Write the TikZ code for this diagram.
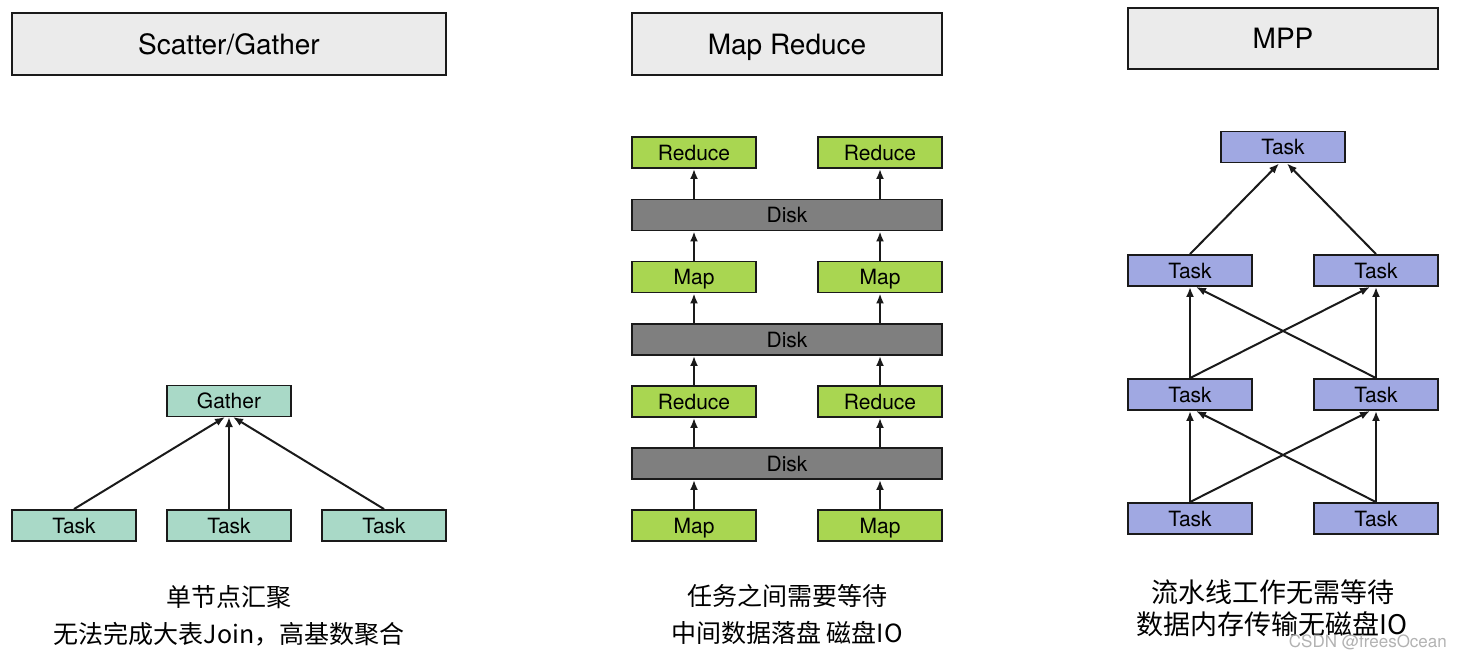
\documentclass[tikz,border=0pt]{standalone}
\usepackage{fontspec}
\setmainfont{TeX Gyre Heros}
\newfontfamily\cjk{Noto Sans CJK SC}
\usetikzlibrary{arrows.meta}
\definecolor{hdrgray}{HTML}{EBEBEB}
\definecolor{sgfill}{HTML}{A9D9C7}
\definecolor{mrfill}{HTML}{A9D651}
\definecolor{diskfill}{HTML}{7F7F7F}
\definecolor{mppfill}{HTML}{A0A8E2}
\definecolor{edge}{HTML}{1A1A1A}
\begin{document}
\begin{tikzpicture}[x=1pt,y=-1pt,
  hdr/.style={draw=edge,line width=2pt,fill=hdrgray,inner sep=0pt,text height=20pt,text depth=0pt,font=\fontsize{28}{30}\selectfont},
  taskbox/.style={draw=edge,line width=1.9pt,inner sep=0pt,minimum width=124pt,minimum height=31pt,text height=15pt,text depth=0pt,font=\fontsize{21}{24}\selectfont},
  sg/.style={taskbox,fill=sgfill},
  mr/.style={taskbox,fill=mrfill},
  mpp/.style={taskbox,fill=mppfill},
  disk/.style={taskbox,fill=diskfill,minimum width=310pt},
  arr/.style={line width=2pt,draw=edge,-{Latex[length=10pt,width=8pt]}},
  captxt/.style={font=\cjk\fontsize{25}{30}\selectfont,inner sep=0pt},
  captxtb/.style={font=\cjk\fontsize{27}{32}\selectfont,inner sep=0pt}]
\useasboundingbox (0,0) rectangle (1461,657);
% headers
\node[hdr,minimum width=434pt,minimum height=62pt] (h1) at (229,44) {Scatter/Gather};
\node[hdr,minimum width=310pt,minimum height=62pt] (h2) at (787,44) {Map Reduce};
\node[hdr,minimum width=310pt,minimum height=61pt] (h3) at (1283,38.5) {MPP};
% Scatter/Gather
\node[sg] (g) at (229,401) {Gather};
\node[sg] (t1) at (74,525.5) {Task};
\node[sg] (t2) at (229,525.5) {Task};
\node[sg] (t3) at (384,525.5) {Task};
\coordinate (gb) at (229,417);
\draw[arr] (t1.north) -- ([xshift=-4pt]gb);
\draw[arr] (t2.north) -- (gb);
\draw[arr] (t3.north) -- ([xshift=4pt]gb);
\node[captxt] (c1) at (229,597) {单节点汇聚};
\node[captxt] (c2) at (229,634) {无法完成大表Join，高基数聚合};
% Map Reduce
\node[mr] (r1) at (694,152.5) {Reduce};
\node[mr] (r2) at (880,152.5) {Reduce};
\node[disk] (d1) at (787,215) {Disk};
\node[mr] (m1) at (694,277) {Map};
\node[mr] (m2) at (880,277) {Map};
\node[disk] (d2) at (787,339.5) {Disk};
\node[mr] (r3) at (694,401.5) {Reduce};
\node[mr] (r4) at (880,401.5) {Reduce};
\node[disk] (d3) at (787,463.5) {Disk};
\node[mr] (m3) at (694,525.5) {Map};
\node[mr] (m4) at (880,525.5) {Map};
\draw[arr] (r1.south |- d1.north) -- (r1.south);
\draw[arr] (r2.south |- d1.north) -- (r2.south);
\draw[arr] (m1.north) -- (m1.north |- d1.south);
\draw[arr] (m2.north) -- (m2.north |- d1.south);
\draw[arr] (m1.south |- d2.north) -- (m1.south);
\draw[arr] (m2.south |- d2.north) -- (m2.south);
\draw[arr] (r3.north) -- (r3.north |- d2.south);
\draw[arr] (r4.north) -- (r4.north |- d2.south);
\draw[arr] (r3.south |- d3.north) -- (r3.south);
\draw[arr] (r4.south |- d3.north) -- (r4.south);
\draw[arr] (m3.north) -- (m3.north |- d3.south);
\draw[arr] (m4.north) -- (m4.north |- d3.south);
\node[captxt] (c3) at (787,596) {任务之间需要等待};
\node[captxt] (c4) at (787,633) {中间数据落盘 磁盘IO};
% MPP
\node[mpp] (p0) at (1283,147) {Task};
\node[mpp] (p1) at (1190,270.5) {Task};
\node[mpp] (p2) at (1376,270.5) {Task};
\node[mpp] (p3) at (1190,394.5) {Task};
\node[mpp] (p4) at (1376,394.5) {Task};
\node[mpp] (p5) at (1190,518.5) {Task};
\node[mpp] (p6) at (1376,518.5) {Task};
\draw[arr] (p1.north) -- ([xshift=-4pt]p0.south);
\draw[arr] (p2.north) -- ([xshift=4pt]p0.south);
\draw[arr] (p3.north) -- (p1.south);
\draw[arr] (p4.north) -- (p2.south);
\draw[arr] (p3.north) -- ([xshift=-6pt]p2.south);
\draw[arr] (p4.north) -- ([xshift=6pt]p1.south);
\draw[arr] (p5.north) -- (p3.south);
\draw[arr] (p6.north) -- (p4.south);
\draw[arr] (p5.north) -- ([xshift=-6pt]p4.south);
\draw[arr] (p6.north) -- ([xshift=6pt]p3.south);
\node[captxtb] (c5) at (1273,592) {流水线工作无需等待};
\node[captxtb] (c6) at (1272,624) {数据内存传输无磁盘IO};
\node[anchor=east,inner sep=0pt,text=black!30,font=\fontsize{17}{20}\selectfont] (wm) at (1447,642) {CSDN @freesOcean};
\end{tikzpicture}
\end{document}
